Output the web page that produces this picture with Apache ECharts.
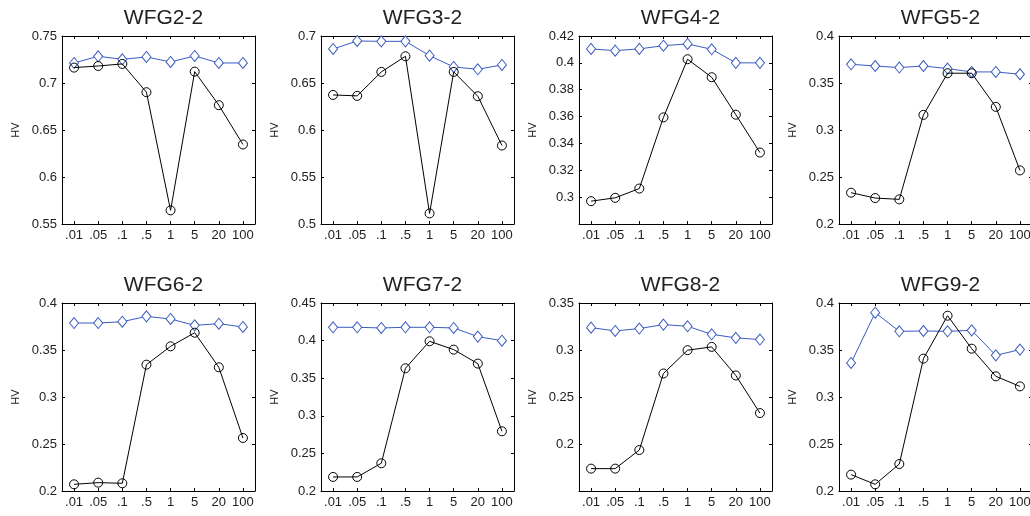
<!DOCTYPE html>
<html>
<head>
<meta charset="utf-8">
<script src="https://cdn.jsdelivr.net/npm/echarts@6/dist/echarts.min.js"></script>
<style>
  html, body { margin: 0; padding: 0; background: #fff; }
  #main { width: 1030px; height: 516px; }
</style>
</head>
<body>
<div id="main"></div>
<script>
// x categories (weight values)
let categories = ['.01', '.05', '.1', '.5', '1', '5', '20', '100'];

let titles = ['WFG2-2', 'WFG3-2', 'WFG4-2', 'WFG5-2', 'WFG6-2', 'WFG7-2', 'WFG8-2', 'WFG9-2'];

// blue diamond series, one array per problem
let blueWFG2 = [0.7213, 0.7284, 0.7252, 0.7277, 0.7224, 0.7288, 0.7213, 0.7213];
let blueWFG3 = [0.6862, 0.6947, 0.6943, 0.6943, 0.6791, 0.6671, 0.6646, 0.6692];
let blueWFG4 = [0.4104, 0.4091, 0.4104, 0.4128, 0.4141, 0.4101, 0.4000, 0.4000];
let blueWFG5 = [0.3699, 0.3681, 0.3664, 0.3681, 0.3653, 0.3618, 0.3618, 0.3593];
let blueWFG6 = [0.3787, 0.3787, 0.3801, 0.3858, 0.3830, 0.3762, 0.3780, 0.3745];
let blueWFG7 = [0.4177, 0.4177, 0.4168, 0.4177, 0.4177, 0.4168, 0.4053, 0.3999];
let blueWFG8 = [0.3238, 0.3203, 0.3228, 0.3270, 0.3252, 0.3167, 0.3129, 0.3111];
let blueWFG9 = [0.3362, 0.3897, 0.3699, 0.3702, 0.3699, 0.3709, 0.3443, 0.3504];

// black circle series
let blackWFG2 = [0.7164, 0.7181, 0.7203, 0.6902, 0.5645, 0.7121, 0.6764, 0.6346];
let blackWFG3 = [0.6373, 0.6363, 0.6618, 0.6784, 0.5113, 0.6618, 0.6359, 0.5835];
let blackWFG4 = [0.2970, 0.2995, 0.3064, 0.3594, 0.4027, 0.3893, 0.3614, 0.3332];
let blackWFG5 = [0.2333, 0.2276, 0.2262, 0.3161, 0.3604, 0.3604, 0.3246, 0.2570];
let blackWFG6 = [0.2071, 0.2089, 0.2082, 0.3344, 0.3539, 0.3684, 0.3316, 0.2564];
let blackWFG7 = [0.2187, 0.2187, 0.2369, 0.3632, 0.3991, 0.3880, 0.3694, 0.2794];
let blackWFG8 = [0.1738, 0.1738, 0.1936, 0.2750, 0.2998, 0.3033, 0.2729, 0.2329];
let blackWFG9 = [0.2174, 0.2071, 0.2287, 0.3408, 0.3865, 0.3514, 0.3220, 0.3113];

// y axis ranges [min, max, interval]
let yMin = [0.55, 0.5, 0.28, 0.2, 0.2, 0.2, 0.15, 0.2];
let yMax = [0.75, 0.7, 0.42, 0.4, 0.4, 0.45, 0.35, 0.4];
let yStep = [0.05, 0.05, 0.02, 0.05, 0.05, 0.05, 0.05, 0.05];
let hideMin = [false, false, true, false, false, false, true, false];

let blueData = [blueWFG2, blueWFG3, blueWFG4, blueWFG5, blueWFG6, blueWFG7, blueWFG8, blueWFG9];
let blackData = [blackWFG2, blackWFG3, blackWFG4, blackWFG5, blackWFG6, blackWFG7, blackWFG8, blackWFG9];

let lefts = [62, 321, 579, 839];
let tops = [36, 303];
let W = 193, H = 188;
let font = 'Liberation Sans, Arial, sans-serif';
let blue = '#3a5cc0';

let grid = [], xAxis = [], yAxis = [], series = [], title = [];

for (let i = 0; i < 8; i++) {
    let left = lefts[i % 4], top = tops[Math.floor(i / 4)];
    // outerBoundsMode none: keep the last column running off the right edge like the original
    grid.push({left: left, top: top, width: W, height: H, show: false, outerBoundsMode: 'none'});
    title.push({
        text: titles[i],
        left: left + W / 2, top: top - 33, textAlign: 'center',
        textStyle: {fontFamily: font, fontSize: 21, fontWeight: 'normal', color: '#222'}
    });
    // bottom and top x axes (top one only for the frame + inward ticks)
    ['bottom', 'top'].forEach(function (pos) {
        xAxis.push({
            type: 'category', gridIndex: i, position: pos, data: categories,
            boundaryGap: true,
            axisLine: {show: true, lineStyle: {color: '#000', width: 1}},
            axisTick: {show: true, inside: true, alignWithLabel: true, length: 3, lineStyle: {color: '#000'}},
            axisLabel: {show: pos === 'bottom', fontFamily: font, fontSize: 13, color: '#222', margin: 5, interval: 0},
            splitLine: {show: false}
        });
    });
    ['left', 'right'].forEach(function (pos) {
        yAxis.push({
            type: 'value', gridIndex: i, position: pos,
            min: yMin[i], max: yMax[i], interval: yStep[i],
            name: pos === 'left' ? 'HV' : '', nameLocation: 'middle', nameGap: 41,
            nameTextStyle: {fontFamily: font, fontSize: 11, color: '#222'},
            axisLine: {show: true, lineStyle: {color: '#000', width: 1}},
            axisTick: {show: true, inside: true, length: 3, lineStyle: {color: '#000'}},
            axisLabel: {
                show: pos === 'left', showMinLabel: !hideMin[i],
                fontFamily: font, fontSize: 13, color: '#222', margin: 5
            },
            splitLine: {show: false}
        });
    });
    series.push({
        type: 'line', xAxisIndex: 2 * i, yAxisIndex: 2 * i, data: blueData[i],
        symbol: 'diamond', symbolSize: [9, 11], showAllSymbol: true,
        lineStyle: {color: blue, width: 1},
        itemStyle: {color: '#fff', borderColor: blue, borderWidth: 1},
        animation: false, z: 3
    });
    series.push({
        type: 'line', xAxisIndex: 2 * i, yAxisIndex: 2 * i, data: blackData[i],
        symbol: 'circle', symbolSize: 9, showAllSymbol: true,
        lineStyle: {color: '#000', width: 1},
        itemStyle: {color: 'rgba(255,255,255,0)', borderColor: '#000', borderWidth: 1},
        animation: false, z: 4
    });
}

let myChart = echarts.init(document.getElementById('main'));
let option = {
    backgroundColor: '#fff',
    animation: false,
    title: title,
    grid: grid,
    xAxis: xAxis,
    yAxis: yAxis,
    series: series
};
myChart.setOption(option);
</script>
</body>
</html>
